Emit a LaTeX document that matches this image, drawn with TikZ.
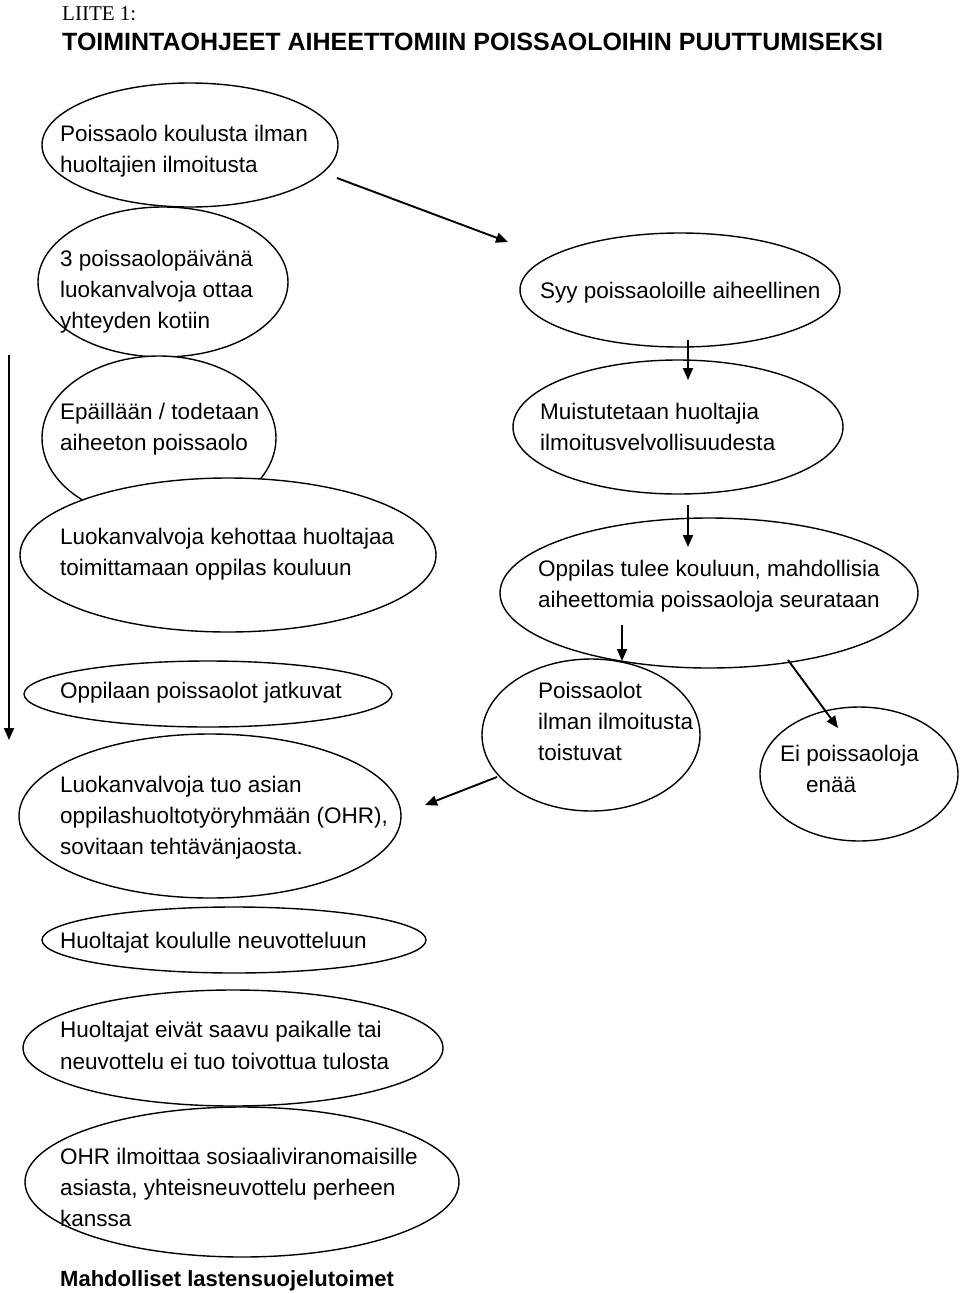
\documentclass[tikz,border=0pt]{standalone}
\usepackage{fontspec}
\setmainfont{Liberation Sans}
\newfontfamily\timesf{Liberation Serif}
\usetikzlibrary{arrows.meta,shapes.geometric}
\newcommand{\tx}{\fontsize{22.5}{31}\selectfont}
\tikzset{
  ell/.style={draw, ellipse, fill=white, line width=1.4pt, inner sep=0pt},
  txt/.style={anchor=base west, inner sep=0pt, font=\tx},
  arr/.style={line width=1.9pt, -{Triangle[length=12pt,width=10pt]}}
}
\begin{document}
\begin{tikzpicture}[x=1pt,y=-1pt]
\useasboundingbox[fill=white] (0,0) rectangle (960,1294);
% ellipses
\node[ell, minimum width=296pt, minimum height=124pt] (A) at (190,145) {};
\node[ell, minimum width=250pt, minimum height=150pt] (B) at (163,282) {};
\node[ell, minimum width=320pt, minimum height=114pt] (Syy) at (680,290) {};
\node[ell, minimum width=330pt, minimum height=134pt] (Mui) at (678,427) {};
\node[ell, minimum width=418pt, minimum height=150pt] (Opp) at (709,593) {};
\node[ell, minimum width=234pt, minimum height=164pt] (Epa) at (159,438) {};
\node[ell, minimum width=416pt, minimum height=154pt] (Keh) at (228,555) {};
\node[ell, minimum width=368pt, minimum height=66pt] (Jat) at (208,694) {};
\node[ell, minimum width=382pt, minimum height=164pt] (Tuo) at (210,816) {};
\node[ell, minimum width=218pt, minimum height=152pt] (Pil) at (591,735) {};
\node[ell, minimum width=198pt, minimum height=134pt] (Ei) at (859,774) {};
\node[ell, minimum width=384pt, minimum height=66pt] (HN) at (234,940) {};
\node[ell, minimum width=420pt, minimum height=116pt] (HE) at (233,1048) {};
\node[ell, minimum width=434pt, minimum height=150pt] (OHR) at (242,1182) {};
% header
\node[anchor=base west, inner sep=0pt, font=\timesf\fontsize{21}{25}\selectfont] (liite) at (62,20) {LIITE 1:};
\node[anchor=base west, inner sep=0pt, font=\bfseries\fontsize{25}{28}\selectfont] (title) at (62,50) {TOIMINTAOHJEET AIHEETTOMIIN POISSAOLOIHIN PUUTTUMISEKSI};
% texts
\node[txt] (a1) at (60,141) {Poissaolo koulusta ilman};
\node[txt] (a2) at (60,172) {huoltajien ilmoitusta};
\node[txt] (b1) at (60,266) {3 poissaolopäivänä};
\node[txt] (b2) at (60,297) {luokanvalvoja ottaa};
\node[txt] (b3) at (60,328) {yhteyden kotiin};
\node[txt] (s1) at (540,298) {Syy poissaoloille aiheellinen};
\node[txt] (m1) at (540,419) {Muistutetaan huoltajia};
\node[txt] (m2) at (540,450) {ilmoitusvelvollisuudesta};
\node[txt] (o1) at (538,576) {Oppilas tulee kouluun, mahdollisia};
\node[txt] (o2) at (538,607) {aiheettomia poissaoloja seurataan};
\node[txt] (e1) at (60,419) {Epäillään / todetaan};
\node[txt] (e2) at (60,450) {aiheeton poissaolo};
\node[txt] (k1) at (60,544) {Luokanvalvoja kehottaa huoltajaa};
\node[txt] (k2) at (60,575) {toimittamaan oppilas kouluun};
\node[txt] (j1) at (60,698) {Oppilaan poissaolot jatkuvat};
\node[txt] (t1) at (60,792) {Luokanvalvoja tuo asian};
\node[txt] (t2) at (60,823) {oppilashuoltotyöryhmään (OHR),};
\node[txt] (t3) at (60,854) {sovitaan tehtävänjaosta.};
\node[txt] (p1) at (538,698) {Poissaolot};
\node[txt] (p2) at (538,729) {ilman ilmoitusta};
\node[txt] (p3) at (538,760) {toistuvat};
\node[txt] (ei1) at (780,761) {Ei poissaoloja};
\node[txt] (ei2) at (806,792) {enää};
\node[txt] (hn1) at (60,948) {Huoltajat koululle neuvotteluun};
\node[txt] (he1) at (60,1037) {Huoltajat eivät saavu paikalle tai};
\node[txt] (he2) at (60,1069) {neuvottelu ei tuo toivottua tulosta};
\node[txt] (oh1) at (60,1164) {OHR ilmoittaa sosiaaliviranomaisille};
\node[txt] (oh2) at (60,1195) {asiasta, yhteisneuvottelu perheen};
\node[txt] (oh3) at (60,1226) {kanssa};
\node[anchor=base west, inner sep=0pt, font=\bfseries\fontsize{22}{31}\selectfont] (mahd) at (60,1286) {Mahdolliset lastensuojelutoimet};
% arrow end points
\coordinate (c1s) at (337,178); \coordinate (c1e) at (508,242);
\coordinate (c2s) at (688,340); \coordinate (c2e) at (688,380);
\coordinate (c3s) at (688,505); \coordinate (c3e) at (688,547);
\coordinate (c4s) at (622,625); \coordinate (c4e) at (622,661);
\coordinate (c5s) at (788,660); \coordinate (c5e) at (838,728);
\coordinate (c6s) at (497,777); \coordinate (c6e) at (425,805);
\coordinate (c7s) at (9,355);   \coordinate (c7e) at (9,740);
\draw[arr] (c1s) -- (c1e);
\draw[arr] (c2s) -- (c2e);
\draw[arr] (c3s) -- (c3e);
\draw[arr] (c4s) -- (c4e);
\draw[arr] (c5s) -- (c5e);
\draw[arr] (c6s) -- (c6e);
\draw[arr] (c7s) -- (c7e);
\end{tikzpicture}
\end{document}
